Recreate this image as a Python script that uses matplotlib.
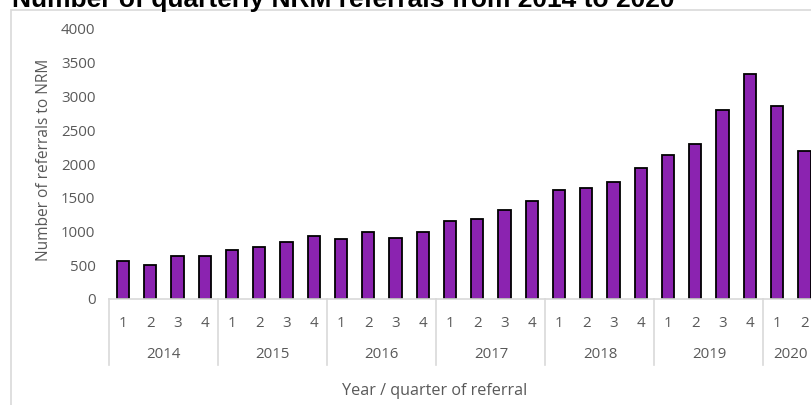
import matplotlib.pyplot as plt
from matplotlib.patches import Rectangle
import matplotlib.transforms as mtransforms

years = ["2014", "2015", "2016", "2017", "2018", "2019", "2020"]
quarters = ["1", "2", "3", "4"] * 6 + ["1", "2"]
referrals = [565, 500, 630, 630,
             720, 765, 840, 930,
             890, 1000, 905, 995,
             1150, 1190, 1320, 1450,
             1620, 1650, 1730, 1940,
             2140, 2295, 2795, 3335,
             2865, 2195]

W, H = 812, 405
fig = plt.figure(figsize=(W / 100, H / 100), dpi=100)
plt.rcParams['font.family'] = ['Open Sans', 'DejaVu Sans']
grey = '#595959'
fs = 10.8

# Excel-like chart area border
fig.patches.append(Rectangle((11 / W, -0.1), 1.2, 1 - 10 / H + 0.1, transform=fig.transFigure,
                             fill=False, edgecolor='#D9D9D9', linewidth=1.2))

fig.text(12 / W, 1 - 7 / H, "Number of quarterly NRM referrals from 2014 to 2020",
         family='Liberation Sans', fontweight='bold', fontsize=19, va='baseline', ha='left')

left, right, bottom, top = 109.3, 818, 299, 29
ax = fig.add_axes([left / W, 1 - bottom / H, (right - left) / W, (bottom - top) / H])

x = range(len(referrals))
ax.bar(x, referrals, width=0.45, color='#8B23B0', edgecolor='black', linewidth=1.3)

ax.set_xlim(-0.5, len(referrals) - 0.5)
ax.set_ylim(0, 4000)
ax.set_yticks(range(0, 4001, 500))
ax.tick_params(axis='y', length=0, pad=10, labelsize=fs, labelcolor=grey)
ax.set_xticks(list(x))
ax.set_xticklabels(quarters)
ax.tick_params(axis='x', length=0, pad=12, labelsize=fs, labelcolor=grey)

for s in ['top', 'right', 'left']:
    ax.spines[s].set_visible(False)
ax.spines['bottom'].set_color('#D9D9D9')
ax.spines['bottom'].set_linewidth(1.2)

trans = mtransforms.blended_transform_factory(ax.transData, ax.transAxes)
sep_bottom = -(365 - 299) / (bottom - top)
for i in range(len(years)):
    start = i * 4 - 0.5
    ax.plot([start, start], [0, sep_bottom], transform=trans, color='#D9D9D9',
            linewidth=1.2, clip_on=False)
    n = min(4, len(referrals) - i * 4)
    ax.text(start + n / 2, -(355 - 299) / (bottom - top), years[i], transform=trans,
            ha='center', va='center', fontsize=fs, color=grey)

fig.text(435 / W, 1 - 391 / H, "Year / quarter of referral", ha='center', va='center',
         fontsize=11.6, color=grey)
fig.text(44.5 / W, 1 - 160 / H, "Number of referrals to NRM", ha='center', va='center',
         rotation=90, fontsize=11.2, color=grey)

fig.savefig("out.png", dpi=100)
